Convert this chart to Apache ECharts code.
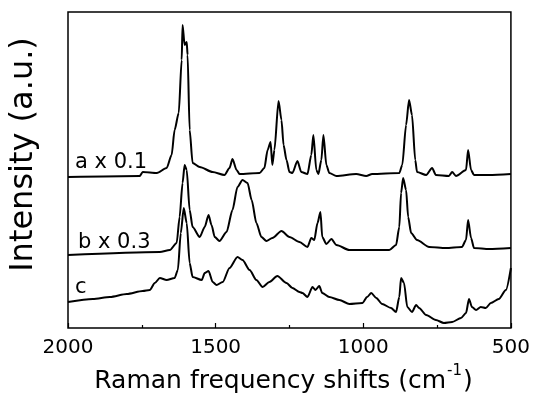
<!DOCTYPE html>
<html>
<head>
<meta charset="utf-8">
<script src="https://cdn.jsdelivr.net/npm/echarts@6/dist/echarts.min.js"></script>
<style>
html,body{margin:0;padding:0;background:#fff;}
#chart{width:533px;height:396px;}
</style>
</head>
<body>
<div id="chart"></div>
<script>
// Raman shift (cm^-1) and intensity (a.u., offset traces as plotted)
const wnA = [2000,1757,1747,1699,1666,1649,1639,1625,1615,1612,1605,1598,1595,1588,1578,1554,1510,1470,1453,1443,1429,1419,1351,1335,1324,1314,1308,1301,1287,1277,1270,1260,1250,1240,1223,1210,1189,1176,1169,1159,1152,1142,1135,1125,1115,1091,1024,990,970,878,868,855,845,835,824,818,787,767,754,710,699,686,652,645,635,625,574,500];
const intA = [151,152,156,155,160,173,198,215,268,303,283,286,273,198,165,161,156,153,160,169,158,154,155,160,178,186,163,178,227,208,183,168,156,155,167,156,154,173,193,158,154,168,193,163,155,152,154,152,154,155,163,203,228,213,168,156,153,160,153,152,156,152,158,178,158,153,153,154];

const wnB = [2000,1689,1655,1632,1622,1612,1605,1598,1588,1578,1554,1537,1524,1514,1503,1487,1463,1443,1426,1409,1392,1378,1362,1345,1328,1308,1277,1250,1216,1189,1176,1166,1155,1145,1139,1125,1108,1091,1047,1014,912,889,878,872,865,855,848,838,818,777,720,666,652,645,635,625,574,500];
const intB = [73,76,78,85,111,145,163,158,118,101,91,101,113,103,91,87,96,118,141,148,145,128,105,91,87,90,97,91,86,81,90,88,105,116,91,84,89,83,78,78,78,83,101,135,150,138,111,95,88,81,80,81,88,108,90,80,79,80];

const wnC = [2000,1916,1858,1801,1747,1723,1706,1689,1666,1639,1628,1618,1608,1598,1588,1578,1547,1537,1524,1510,1497,1476,1453,1426,1409,1385,1362,1341,1318,1291,1260,1240,1216,1206,1189,1172,1162,1149,1139,1115,1081,1047,1003,987,973,956,936,906,889,878,872,862,851,835,821,811,787,754,727,699,669,652,642,632,618,602,585,568,541,517,500];
const intC = [26,29,31,34,37,38,45,50,48,50,58,95,120,105,65,51,48,55,57,46,43,46,60,71,68,58,48,41,46,52,45,40,36,35,31,41,38,42,35,31,28,24,25,31,35,30,24,20,16,31,50,45,21,16,23,20,13,8,5,6,10,15,29,21,18,21,20,25,29,38,60];

const xTickLabels = [2000, 1500, 1000, 500];
const traceLabels = ['a x 0.1', 'b x 0.3', 'c'];
const xTitle = 'Raman frequency shifts (cm';
const xTitleSup = '-1';
const yTitle = 'Intensity (a.u.)';

const zip = (xs, ys) => xs.map((x, i) => [x, ys[i]]);
const FONT = 'DejaVu Sans';

const chart = echarts.init(document.getElementById('chart'), null, {renderer: 'canvas'});

const lineSeries = (data) => ({
  type: 'line',
  data: data,
  showSymbol: false,
  smooth: 0.25,
  smoothMonotone: 'x',
  lineStyle: {color: '#000', width: 2},
  itemStyle: {color: '#000'},
  silent: true,
  clip: true
});

chart.setOption({
  animation: false,
  backgroundColor: '#fff',
  grid: {left: 68, right: 21, top: 12, bottom: 68, show: true, borderColor: '#000', borderWidth: 1.5, backgroundColor: 'transparent'},
  xAxis: {
    type: 'value',
    inverse: true,
    min: 500,
    max: 2000,
    interval: 500,
    axisLine: {show: false},
    axisTick: {show: true, inside: true, length: 5, lineStyle: {color: '#000', width: 1.2}},
    minorTick: {show: true, splitNumber: 2, length: 3, lineStyle: {color: '#000', width: 1.2}},
    splitLine: {show: false},
    axisLabel: {
      color: '#000', fontFamily: FONT, fontSize: 20, margin: 10,
      formatter: (v) => xTickLabels.indexOf(v) >= 0 ? String(v) : ''
    }
  },
  yAxis: {
    type: 'value',
    min: 0,
    max: 316,
    axisLine: {show: false},
    axisTick: {show: false},
    axisLabel: {show: false},
    splitLine: {show: false}
  },
  series: [lineSeries(zip(wnA, intA)), lineSeries(zip(wnB, intB)), lineSeries(zip(wnC, intC))],
  graphic: [
    {type: 'text', x: 75, y: 162.5, style: {text: traceLabels[0], fill: '#000', font: '21px "DejaVu Sans"', textAlign: 'left', textVerticalAlign: 'middle', align: 'left', verticalAlign: 'middle'}},
    {type: 'text', x: 78, y: 243, style: {text: traceLabels[1], fill: '#000', font: '21px "DejaVu Sans"', textAlign: 'left', textVerticalAlign: 'middle', align: 'left', verticalAlign: 'middle'}},
    {type: 'text', x: 75, y: 287.5, style: {text: traceLabels[2], fill: '#000', font: '21px "DejaVu Sans"', textAlign: 'left', textVerticalAlign: 'middle', align: 'left', verticalAlign: 'middle'}},
    {type: 'text', x: 24, y: 154.5, rotation: Math.PI / 2, style: {text: yTitle, fill: '#000', font: '32px "DejaVu Sans"', textAlign: 'center', textVerticalAlign: 'middle', align: 'center', verticalAlign: 'middle'}},
    {type: 'text', x: 283.5, y: 379, style: {
      text: '{m|' + xTitle + '}{s|' + xTitleSup + '}{m|)}',
      fill: '#000', font: '25px "DejaVu Sans"', textAlign: 'center', textVerticalAlign: 'middle', align: 'center', verticalAlign: 'middle',
      rich: {
        m: {fontFamily: FONT, fontSize: 25, lineHeight: 30, fill: '#000', color: '#000', verticalAlign: 'bottom'},
        s: {fontFamily: FONT, fontSize: 15, lineHeight: 30, fill: '#000', color: '#000', verticalAlign: 'top', padding: [0, 1, 12, 1]}
      }
    }}
  ]
});
</script>
</body>
</html>
